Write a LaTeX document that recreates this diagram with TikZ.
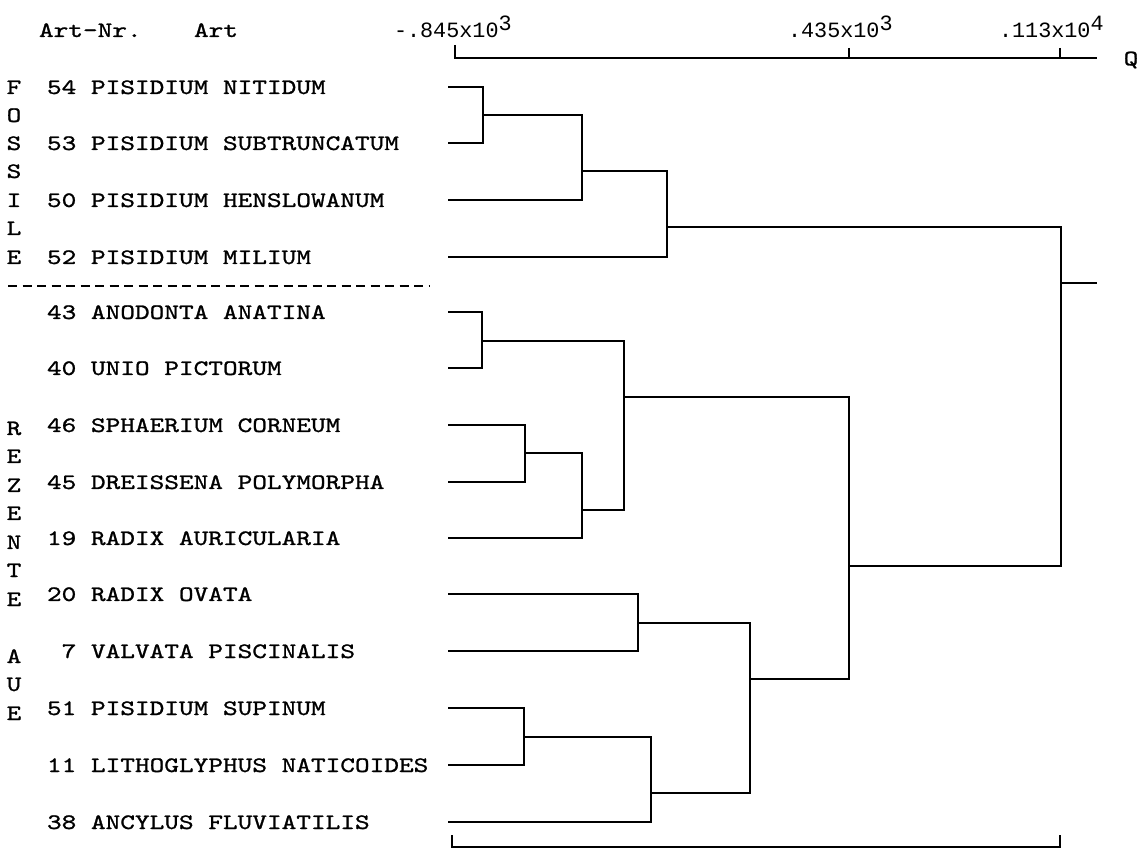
\documentclass[tikz,border=0pt]{standalone}
\usepackage{fontspec}
\setmainfont{lmmono10-regular.otf}[FakeStretch=1.27,FakeBold=1.1]
\newfontfamily\axfont{Liberation Mono}

\begin{document}
\begin{tikzpicture}[x=0.5pt,y=-0.5pt,line width=1pt,
  font=\fontsize{11}{13}\selectfont,
  lbl/.style={anchor=base west,inner sep=0pt},
  side/.style={anchor=base,inner sep=0pt},
  axlbl/.style={anchor=base west,inner sep=0pt,font=\axfont\fontsize{10.9}{13}\selectfont},
  sepline/.style={dash pattern=on 4.5pt off 2.75pt}]
\useasboundingbox (0,0) rectangle (1140,849);

\node[lbl] (artnr) at (38,37) {Art-Nr.};
\node[lbl] (art) at (193,37) {Art};
\node[axlbl] (q1) at (393,38) {-.845x10\raisebox{3.5pt}{3}};
\node[axlbl] (q2) at (787,38) {.435x10\raisebox{3.5pt}{3}};
\node[axlbl] (q3) at (998,38) {.113x10\raisebox{3.5pt}{4}};
\node (q) at (1131,60) {Q};

\draw (455,45) -- (455,58) -- (1097,58);
\draw (849,48) -- (849,58);
\draw (1060,48) -- (1060,58);
\draw (452,835) -- (452,847) -- (1060,847) -- (1060,835);

\node[side] (s1) at (14,94) {F};
\node[side] (s2) at (14,122) {O};
\node[side] (s3) at (14,150) {S};
\node[side] (s4) at (14,178) {S};
\node[side] (s5) at (14,207) {I};
\node[side] (s6) at (14,235) {L};
\node[side] (s7) at (14,264) {E};
\node[side] (s8) at (14,435) {R};
\node[side] (s9) at (14,463) {E};
\node[side] (s10) at (14,492) {Z};
\node[side] (s11) at (14,520) {E};
\node[side] (s12) at (14,549) {N};
\node[side] (s13) at (14,577) {T};
\node[side] (s14) at (14,606) {E};
\node[side] (s15) at (14,663) {A};
\node[side] (s16) at (14,691) {U};
\node[side] (s17) at (14,720) {E};

\draw[sepline] (8,286) -- (430,286);

\node[lbl] (t54) at (46,94) {54 PISIDIUM NITIDUM};
\node[lbl] (t53) at (46,150) {53 PISIDIUM SUBTRUNCATUM};
\node[lbl] (t50) at (46,207) {50 PISIDIUM HENSLOWANUM};
\node[lbl] (t52) at (46,264) {52 PISIDIUM MILIUM};
\node[lbl] (t43) at (46,319) {43 ANODONTA ANATINA};
\node[lbl] (t40) at (46,375) {40 UNIO PICTORUM};
\node[lbl] (t46) at (46,432) {46 SPHAERIUM CORNEUM};
\node[lbl] (t45) at (46,489) {45 DREISSENA POLYMORPHA};
\node[lbl] (t19) at (46,545) {19 RADIX AURICULARIA};
\node[lbl] (t20) at (46,601) {20 RADIX OVATA};
\node[lbl] (t7) at (46,658) {\phantom{1}7 VALVATA PISCINALIS};
\node[lbl] (t51) at (46,715) {51 PISIDIUM SUPINUM};
\node[lbl] (t11) at (46,772) {11 LITHOGLYPHUS NATICOIDES};
\node[lbl] (t38) at (46,829) {38 ANCYLUS FLUVIATILIS};

\coordinate (l54) at (448,87);
\coordinate (l53) at (448,143);
\coordinate (l50) at (448,200);
\coordinate (l52) at (448,257);
\coordinate (l43) at (448,312);
\coordinate (l40) at (448,368);
\coordinate (l46) at (448,425);
\coordinate (l45) at (448,482);
\coordinate (l19) at (448,538);
\coordinate (l20) at (448,594);
\coordinate (l7) at (448,651);
\coordinate (l51) at (448,708);
\coordinate (l11) at (448,765);
\coordinate (l38) at (448,822);

\coordinate (m1) at (483,115);
\coordinate (m2) at (582,171);
\coordinate (m3) at (667,227);
\coordinate (m4) at (482,341);
\coordinate (m5) at (525,453);
\coordinate (m6) at (582,510);
\coordinate (m7) at (624,397);
\coordinate (m8) at (638,623);
\coordinate (m9) at (524,737);
\coordinate (m10) at (651,793);
\coordinate (m11) at (750,679);
\coordinate (m12) at (849,566);
\coordinate (m13) at (1061,283);
\coordinate (root) at (1097,283);

\draw (l54) -| (m1);
\draw (l53) -| (m1);
\draw (m1) -| (m2);
\draw (l50) -| (m2);
\draw (m2) -| (m3);
\draw (l52) -| (m3);
\draw (l43) -| (m4);
\draw (l40) -| (m4);
\draw (l46) -| (m5);
\draw (l45) -| (m5);
\draw (m5) -| (m6);
\draw (l19) -| (m6);
\draw (m4) -| (m7);
\draw (m6) -| (m7);
\draw (l20) -| (m8);
\draw (l7) -| (m8);
\draw (l51) -| (m9);
\draw (l11) -| (m9);
\draw (m9) -| (m10);
\draw (l38) -| (m10);
\draw (m8) -| (m11);
\draw (m10) -| (m11);
\draw (m7) -| (m12);
\draw (m11) -| (m12);
\draw (m3) -| (m13);
\draw (m12) -| (m13);
\draw (m13) -- (root);
\end{tikzpicture}
\end{document}
